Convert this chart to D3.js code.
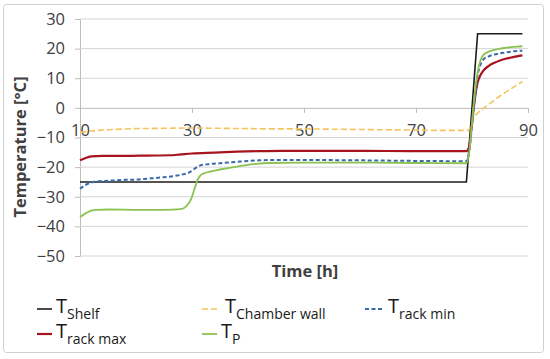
<!DOCTYPE html>
<html>
<head>
<meta charset="utf-8">
<script src="https://cdn.jsdelivr.net/npm/d3@7"></script>
<style>
  body { margin: 0; background: #fff; }
  svg text { font-family: "Open Sans", "Liberation Sans", sans-serif; }
</style>
</head>
<body>
<div id="chart"></div>
<script>
// values
const xTicks = [10, 30, 50, 70, 90];
const yTicks = [-50, -40, -30, -20, -10, 0, 10, 20, 30];

const shelfT = [10, 79, 81, 89];
const shelfV = [-25, -25, 25, 25];

const wallT = [10, 12, 15, 20, 25, 30, 35, 40, 45, 50, 55, 60, 65, 70, 75, 79.3, 79.8, 80.3, 81, 82, 83, 84, 85, 86, 87, 88, 89];
const wallV = [-8.3, -7.8, -7.4, -7.0, -6.9, -6.8, -6.9, -7.0, -7.1, -7.1, -7.2, -7.3, -7.4, -7.5, -7.6, -7.6, -6.0, -3.5, -1.8, -0.2, 1.2, 2.6, 4.0, 5.3, 6.5, 7.7, 8.9];

const rackMinT = [10, 11, 12, 13, 15, 18, 20, 22, 25, 28, 29.5, 30.5, 31.5, 33, 35, 38, 40, 42, 45, 50, 60, 70, 79, 79.5, 80, 80.5, 81, 81.5, 82, 83, 84, 85, 86, 87, 88, 89];
const rackMinV = [-27.3, -26, -25.2, -24.8, -24.6, -24.3, -24.2, -23.9, -23.4, -22.6, -21.8, -20.5, -19.4, -19.0, -18.7, -18.2, -17.9, -17.7, -17.6, -17.6, -17.7, -17.9, -18.0, -15, -6, 3, 11, 14.5, 16.3, 17.4, 18.0, 18.4, 18.7, 19.0, 19.2, 19.3];

const rackMaxT = [10, 11, 12, 14, 18, 22, 26, 28, 30, 34, 38, 42, 46, 50, 60, 70, 79, 79.5, 80, 80.5, 81, 81.5, 82, 83, 84, 85, 86, 87, 88, 89];
const rackMaxV = [-17.7, -16.9, -16.4, -16.2, -16.2, -16.1, -16.0, -15.7, -15.4, -15.1, -14.8, -14.6, -14.5, -14.5, -14.5, -14.6, -14.6, -13, -5, 3, 8.5, 11, 12.5, 14.2, 15.2, 16.0, 16.6, 17.0, 17.4, 17.7];

const tpT = [10, 11, 12, 13, 15, 20, 25, 28, 29, 29.8, 30.5, 31, 31.5, 32, 33, 35, 38, 41, 44, 50, 60, 70, 79, 79.5, 80, 80.5, 81, 81.5, 82, 83, 84, 85, 86, 87, 88, 89];
const tpV = [-36.8, -35.6, -34.7, -34.4, -34.3, -34.4, -34.4, -34.2, -33.2, -31.0, -27.0, -24.3, -22.8, -22.2, -21.6, -20.8, -19.8, -19.0, -18.6, -18.5, -18.5, -18.6, -18.7, -15, -5, 5, 12, 16, 17.8, 19.0, 19.6, 20.0, 20.3, 20.5, 20.7, 20.8];

const zip = (t, v) => t.map((d, i) => ({t: d, v: v[i]}));

const series = [
  {main: "T", sub: "Shelf", data: zip(shelfT, shelfV), color: "#1c1c1c", w: 1.6, dash: null, curve: d3.curveLinear},
  {main: "T", sub: "Chamber wall", data: zip(wallT, wallV), color: "#f6c35e", w: 1.6, dash: "6,3", curve: d3.curveMonotoneX},
  {main: "T", sub: "rack max", data: zip(rackMaxT, rackMaxV), color: "#a8141e", w: 2.2, dash: null, curve: d3.curveMonotoneX},
  {main: "T", sub: "rack min", data: zip(rackMinT, rackMinV), color: "#3a6aab", w: 2, dash: "4,2.5", curve: d3.curveMonotoneX},
  {main: "T", sub: "P", data: zip(tpT, tpV), color: "#8cc251", w: 1.8, dash: null, curve: d3.curveMonotoneX}
];

const width = 550, height = 359;
const svg = d3.select("#chart").append("svg").attr("width", width).attr("height", height);

svg.append("rect").attr("x", 3.5).attr("y", 4.5).attr("width", 540).attr("height", 348)
  .attr("rx", 3).attr("fill", "#fff").attr("stroke", "#cfcfcf");

const x = d3.scaleLinear().domain([10, 90]).range([80, 528]);
const y = d3.scaleLinear().domain([-50, 30]).range([256, 19]);

// horizontal gridlines + y ticks
const yAxis = d3.axisLeft(y).tickValues(yTicks).tickSize(5).tickPadding(10).tickFormat(d3.format("d"));
const yg = svg.append("g").attr("transform", "translate(80,0)").call(yAxis);
yg.select(".domain").attr("stroke", "#bdbdbd");
yg.selectAll(".tick line").attr("stroke", "#bdbdbd");
yg.selectAll(".tick text").attr("fill", "#404040").style("font-size", "16.5px");

svg.append("g").selectAll("line").data(yTicks.filter(d => d !== 0)).join("line")
  .attr("x1", x(10)).attr("x2", x(90)).attr("y1", d => y(d)).attr("y2", d => y(d))
  .attr("stroke", "#d4d4d4");

// x axis at 0
const xAxis = d3.axisBottom(x).tickValues(xTicks).tickSize(5).tickPadding(11).tickFormat(d3.format("d"));
const xg = svg.append("g").attr("transform", `translate(0,${y(0)})`).call(xAxis);
xg.select(".domain").attr("stroke", "#bdbdbd");
xg.selectAll(".tick line").attr("stroke", "#bdbdbd");
xg.selectAll(".tick text").attr("fill", "#404040").style("font-size", "16.5px");

// lines
const line = d3.line().x(d => x(d.t)).y(d => y(d.v));
series.forEach(s => {
  svg.append("path").datum(s.data)
    .attr("fill", "none").attr("stroke", s.color).attr("stroke-width", s.w)
    .attr("stroke-dasharray", s.dash)
    .attr("d", line.curve(s.curve));
});

// axis titles
svg.append("text").attr("x", 305).attr("y", 277).attr("text-anchor", "middle")
  .style("font-size", "16.5px").style("font-weight", "bold").attr("fill", "#404040").text("Time [h]");
svg.append("text").attr("transform", "translate(26,147) rotate(-90)").attr("text-anchor", "middle")
  .style("font-size", "16.5px").style("font-weight", "bold").attr("fill", "#404040").text("Temperature [°C]");

// legend
const legPos = [[37, 309], [202, 309], [37, 334], [365, 309], [202, 334]];
series.forEach((s, i) => {
  const [lx, ly] = legPos[i];
  const g = svg.append("g").attr("transform", `translate(${lx},${ly})`);
  g.append("line").attr("x1", 0).attr("x2", s.dash ? 18 : 15).attr("y1", 0).attr("y2", 0)
    .attr("stroke", s.color).attr("stroke-width", s.w).attr("stroke-dasharray", s.dash);
  const t = g.append("text").attr("x", s.dash ? 23 : 19).attr("y", 4).attr("fill", "#1a1a1a");
  t.append("tspan").style("font-size", "20px").text(s.main);
  t.append("tspan").attr("dy", 6).style("font-size", "14px").text(s.sub);
});
</script>
</body>
</html>
